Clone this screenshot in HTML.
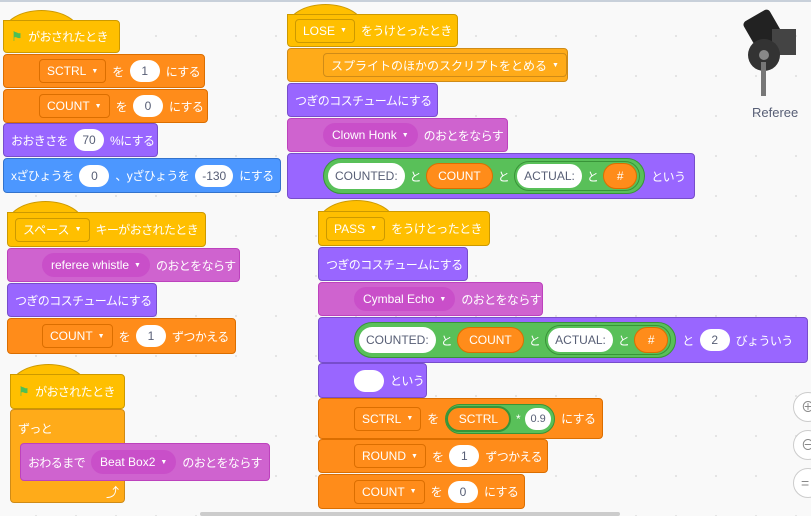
<!DOCTYPE html><html><head><meta charset="utf-8"><style>
body{margin:0;width:811px;height:514px;overflow:hidden;background:#f9f9f9;background-image:radial-gradient(#ddd 1px,transparent 1px);background-size:40px 40px;background-position:16px 16px;font-family:"Liberation Sans","Noto Sans CJK JP",sans-serif;position:relative;border-top:2px solid #c8d0da;box-sizing:border-box}
.b{position:absolute;border-radius:4px;color:#fff;font-size:12px;letter-spacing:-0.6px;display:flex;align-items:center;padding-left:7px;box-sizing:border-box;white-space:nowrap;gap:6px}
.ev{background:#ffbf00;border:1px solid #cc9900}
.va{background:#ff8c1a;border:1px solid #db6e00}
.lo{background:#9966ff;border:1px solid #774dcb}
.so{background:#cf63cf;border:1px solid #bd42bd}
.mo{background:#4c97ff;border:1px solid #3373cc}
.co{background:#ffab19;border:1px solid #cf8b17}
.hat{border-top-left-radius:0}
.arc{position:absolute;height:22px;border-radius:50% 50% 0 0/100% 100% 0 0;background:#ffbf00;border:1px solid #cc9900;border-bottom:none}
.in{background:#fff;color:#575e75;border-radius:12px;height:22px;display:inline-flex;align-items:center;justify-content:center;padding:0 7px;min-width:30px;box-sizing:border-box;letter-spacing:0}
.dd{border:1px solid rgba(0,0,0,.15);border-radius:4px;height:24px;display:inline-flex;align-items:center;padding:0 7px;box-sizing:border-box;letter-spacing:0}
.va .dd{background:#ff8c1a;border-color:#db6e00}
.ev .dd{background:#ffbf00;border-color:#cc9900}
.sd{background:#c94fc9;border-radius:12px;height:24px;display:inline-flex;align-items:center;padding:0 9px;letter-spacing:0}
.tri{font-size:7px;margin-left:5px}
.gr{background:#59c059;border:1px solid #389438;border-radius:20px;height:36px;display:inline-flex;align-items:center;padding:0 4px;gap:5px;box-sizing:border-box}
.gr2{background:#59c059;border:1px solid #389438;border-radius:18px;height:30px;display:inline-flex;align-items:center;padding:0 2px;gap:5px;box-sizing:border-box}
.ov{background:#ff8c1a;border:1px solid #db6e00;border-radius:14px;height:26px;display:inline-flex;align-items:center;padding:0 11px;box-sizing:border-box;letter-spacing:0}
.fl{color:#4cbf56;font-size:13px}
</style></head><body>
<!-- left -->
<div class="arc" style="left:3px;top:8px;width:75px"></div>
<div class="b ev hat" style="left:3px;top:18px;width:117px;height:33px"><span class="fl">⚑</span>がおされたとき</div>
<div class="b va" style="left:3px;top:52px;width:202px;height:34px;padding-left:35px"><span class="dd">SCTRL<span class="tri">▼</span></span>を<span class="in">1</span>にする</div>
<div class="b va" style="left:3px;top:87px;width:205px;height:34px;padding-left:35px"><span class="dd">COUNT<span class="tri">▼</span></span>を<span class="in">0</span>にする</div>
<div class="b lo" style="left:3px;top:121px;width:155px;height:34px">おおきさを<span class="in">70</span>%にする</div>
<div class="b mo" style="left:3px;top:156px;width:278px;height:35px">xざひょうを<span class="in">0</span>、yざひょうを<span class="in" style="width:38px">-130</span>にする</div>

<div class="arc" style="left:7px;top:199px;width:75px"></div>
<div class="b ev hat" style="left:7px;top:210px;width:199px;height:35px"><span class="dd">スペース<span class="tri">▼</span></span>キーがおされたとき</div>
<div class="b so" style="left:7px;top:246px;width:233px;height:34px;padding-left:34px"><span class="sd">referee whistle<span class="tri">▼</span></span>のおとをならす</div>
<div class="b lo" style="left:7px;top:281px;width:150px;height:34px">つぎのコスチュームにする</div>
<div class="b va" style="left:7px;top:316px;width:229px;height:36px;padding-left:34px"><span class="dd">COUNT<span class="tri">▼</span></span>を<span class="in">1</span>ずつかえる</div>

<div class="arc" style="left:10px;top:362px;width:75px"></div>
<div class="b ev hat" style="left:10px;top:372px;width:115px;height:35px"><span class="fl">⚑</span>がおされたとき</div>
<div class="b co" style="left:10px;top:407px;width:115px;height:94px;align-items:flex-start;padding-top:10px">ずっと</div>
<div class="b so" style="left:20px;top:441px;width:250px;height:38px"><span>おわるまで</span><span class="sd">Beat Box2<span class="tri">▼</span></span>のおとをならす</div>
<div style="position:absolute;left:106px;top:480px;color:#fff;font-size:13px">⤴</div>

<!-- middle -->
<div class="arc" style="left:287px;top:2px;width:75px"></div>
<div class="b ev hat" style="left:287px;top:12px;width:171px;height:33px"><span class="dd">LOSE<span class="tri">▼</span></span>をうけとったとき</div>
<div class="b co" style="left:287px;top:46px;width:281px;height:34px;padding-left:35px"><span class="dd" style="background:#ffab19;border-color:#cf8b17">スプライトのほかのスクリプトをとめる<span class="tri">▼</span></span></div>
<div class="b lo" style="left:287px;top:81px;width:151px;height:34px">つぎのコスチュームにする</div>
<div class="b so" style="left:287px;top:116px;width:221px;height:34px;padding-left:35px"><span class="sd">Clown Honk<span class="tri">▼</span></span>のおとをならす</div>
<div class="b lo" style="left:287px;top:151px;width:408px;height:46px;padding-left:35px"><span class="gr"><span class="in" style="height:26px;border-radius:13px">COUNTED:</span>と<span class="ov">COUNT</span>と<span class="gr2"><span class="in" style="height:24px">ACTUAL:</span>と<span class="ov" style="width:34px;justify-content:center">#</span></span></span>という</div>

<div class="arc" style="left:318px;top:198px;width:75px"></div>
<div class="b ev hat" style="left:318px;top:209px;width:172px;height:35px"><span class="dd">PASS<span class="tri">▼</span></span>をうけとったとき</div>
<div class="b lo" style="left:318px;top:245px;width:150px;height:34px">つぎのコスチュームにする</div>
<div class="b so" style="left:318px;top:280px;width:225px;height:34px;padding-left:35px"><span class="sd">Cymbal Echo<span class="tri">▼</span></span>のおとをならす</div>
<div class="b lo" style="left:318px;top:315px;width:490px;height:46px;padding-left:35px"><span class="gr"><span class="in" style="height:26px;border-radius:13px">COUNTED:</span>と<span class="ov">COUNT</span>と<span class="gr2"><span class="in" style="height:24px">ACTUAL:</span>と<span class="ov" style="width:34px;justify-content:center">#</span></span></span>と<span class="in" style="width:28px">2</span>びょういう</div>
<div class="b lo" style="left:318px;top:361px;width:109px;height:35px;padding-left:35px"><span class="in" style="width:28px"></span>という</div>
<div class="b va" style="left:318px;top:396px;width:285px;height:41px;padding-left:35px"><span class="dd">SCTRL<span class="tri">▼</span></span>を<span class="gr2" style="padding:0 3px 0 0"><span class="ov" style="border-color:#389438;border-width:2px">SCTRL</span>*<span class="in" style="width:26px;min-width:26px;font-size:11px">0.9</span></span>にする</div>
<div class="b va" style="left:318px;top:437px;width:230px;height:34px;padding-left:35px"><span class="dd">ROUND<span class="tri">▼</span></span>を<span class="in">1</span>ずつかえる</div>
<div class="b va" style="left:318px;top:472px;width:207px;height:35px;padding-left:35px"><span class="dd">COUNT<span class="tri">▼</span></span>を<span class="in">0</span>にする</div>

<!-- sprite -->
<svg style="position:absolute;left:742px;top:5px" width="66" height="92"><rect x="8" y="6" width="30" height="40" rx="4" fill="#222" transform="rotate(-30 23 26)"/><rect x="30" y="22" width="24" height="26" fill="#444"/><circle cx="22" cy="48" r="16" fill="#333"/><circle cx="22" cy="48" r="5" fill="#888"/><rect x="19" y="55" width="5" height="34" fill="#777"/></svg>
<div style="position:absolute;left:752px;top:103px;font-size:13px;color:#575e75">Referee</div>
<div style="position:absolute;left:793px;top:390px;width:28px;height:28px;border-radius:50%;border:1px solid #ccc;background:#fff;color:#888;font-size:14px;line-height:28px;text-indent:7px">⊕</div>
<div style="position:absolute;left:793px;top:428px;width:28px;height:28px;border-radius:50%;border:1px solid #ccc;background:#fff;color:#888;font-size:14px;line-height:28px;text-indent:7px">⊖</div>
<div style="position:absolute;left:793px;top:466px;width:28px;height:28px;border-radius:50%;border:1px solid #ccc;background:#fff;color:#888;font-size:14px;line-height:28px;text-indent:7px">=</div>
<div style="position:absolute;left:200px;top:510px;width:420px;height:4px;background:#ccc;border-radius:2px"></div>
</body></html>
